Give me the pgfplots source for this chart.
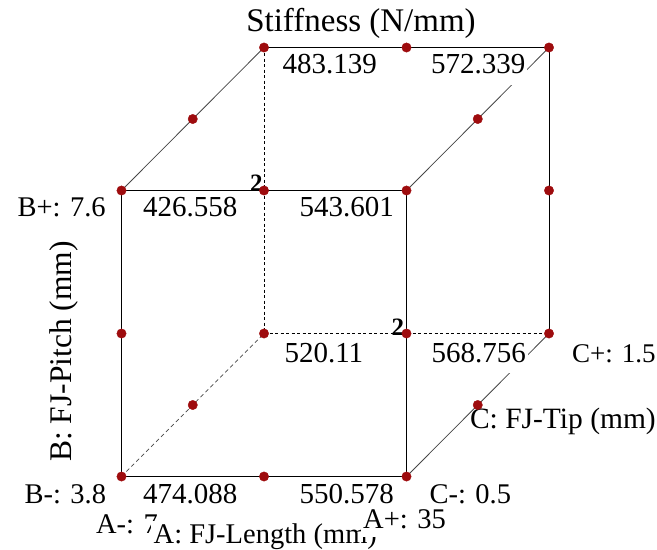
\documentclass[border=0pt]{standalone}
\usepackage{pgfplots}
\pgfplotsset{compat=1.18}
\usepackage{fontspec}
\setmainfont{Liberation Serif}
\definecolor{ptred}{RGB}{158,12,14}
\definecolor{edgegray}{RGB}{70,70,70}
\newcommand{\lab}{\fontsize{29bp}{35bp}\selectfont}
\newcommand{\fac}{\fontsize{28.5bp}{34bp}\selectfont}
\newcommand{\ttl}{\fontsize{33bp}{40bp}\selectfont}
\newcommand{\rep}{\fontsize{25bp}{30bp}\selectfont\bfseries}

\begin{document}
\begin{tikzpicture}
\useasboundingbox (0,0) rectangle (657bp,550bp);
\begin{axis}[
  scale only axis, width=657bp, height=550bp,
  xmin=0, xmax=657, ymin=0, ymax=550, y dir=reverse,
  axis lines=none, clip=false,
  every node/.style={inner sep=0pt, text=black},
]
% front face of the cube
\addplot[black, line width=1.15bp] coordinates
  {(121.5,190.5) (406.5,190.5) (406.5,476.5) (121.5,476.5) (121.5,190.5)};
% visible back edges
\addplot[black, line width=1.0bp] coordinates {(264,47.5) (549,47.5) (549,333.5)};
% receding edges
\addplot[edgegray, line width=0.8bp] coordinates {(121.5,190.5) (264,47.5)};
\addplot[edgegray, line width=0.8bp] coordinates {(406.5,190.5) (549,47.5)};
\addplot[edgegray, line width=0.8bp] coordinates {(406.5,476.5) (549,333.5)};
% hidden edges
\addplot[black, line width=0.8bp, dash pattern=on 3bp off 2.5bp] coordinates
  {(264,47.5) (264,333.5) (549,333.5)};
\addplot[edgegray, line width=0.7bp, dash pattern=on 4bp off 3bp] coordinates
  {(121.5,476.5) (264,333.5)};
% design points
\addplot[only marks, mark=*, mark size=4.7bp, ptred, mark options={draw=ptred, fill=ptred}] coordinates {
  (264,47.5) (406.5,47.5) (549,47.5)
  (192.75,119) (477.75,119)
  (121.5,190.5) (264,190.5) (406.5,190.5) (549,190.5)
  (121.5,333.5) (264,333.5) (406.5,333.5) (549,333.5)
  (192.75,405) (477.75,405)
  (121.5,476.5) (264,476.5) (406.5,476.5)
};
% response values and factor labels
\node[anchor=base] at (axis cs:361,31.7) {\ttl Stiffness (N/mm)};
\node[anchor=base west] at (axis cs:279,73) {\lab 483.139};
\node[anchor=base west, fill=white, inner xsep=2bp, text depth=9bp] at (axis cs:429,73) {\lab 572.339};
\node[anchor=base west] at (axis cs:14,216.7) {\fac B+: 7.6};
\node[anchor=base west] at (axis cs:139.5,216.7) {\lab 426.558};
\node[anchor=base west] at (axis cs:296,216.7) {\lab 543.601};
\node[anchor=base west] at (axis cs:246.5,191.7) {\rep 2};
\node[anchor=base west] at (axis cs:388,335) {\rep 2};
\node[anchor=base west] at (axis cs:281,362) {\lab 520.11};
\node[anchor=base west, fill=white, inner xsep=2bp, text depth=8bp] at (axis cs:429.5,362) {\lab 568.756};
\node[anchor=base west] at (axis cs:568.5,362) {\fontsize{27bp}{32bp}\selectfont C+: 1.5};
\node[anchor=base west] at (axis cs:466.5,428) {\fontsize{29.5bp}{35bp}\selectfont C: FJ-Tip (mm)};
\node[anchor=base west] at (axis cs:21,503) {\fac B-: 3.8};
\node[anchor=base west] at (axis cs:139.5,503) {\lab 474.088};
\node[anchor=base west] at (axis cs:296,503) {\lab 550.578};
\node[anchor=base west] at (axis cs:426,503) {\fac C-: 0.5};
\node[anchor=base west] at (axis cs:92.5,533) {\fac A-: 7};
\node[anchor=base west, fill=white, inner sep=2.5bp] at (axis cs:151,543) {\fac A: FJ-Length (mm)};
\node[anchor=base west, fill=white, inner xsep=2bp, text depth=6bp] at (axis cs:361,528) {\fac A+: 35};
\node[rotate=90, anchor=base] at (axis cs:71.7,351.5) {\fontsize{31.5bp}{38bp}\selectfont B: FJ-Pitch (mm)};
\end{axis}
\end{tikzpicture}
\end{document}
